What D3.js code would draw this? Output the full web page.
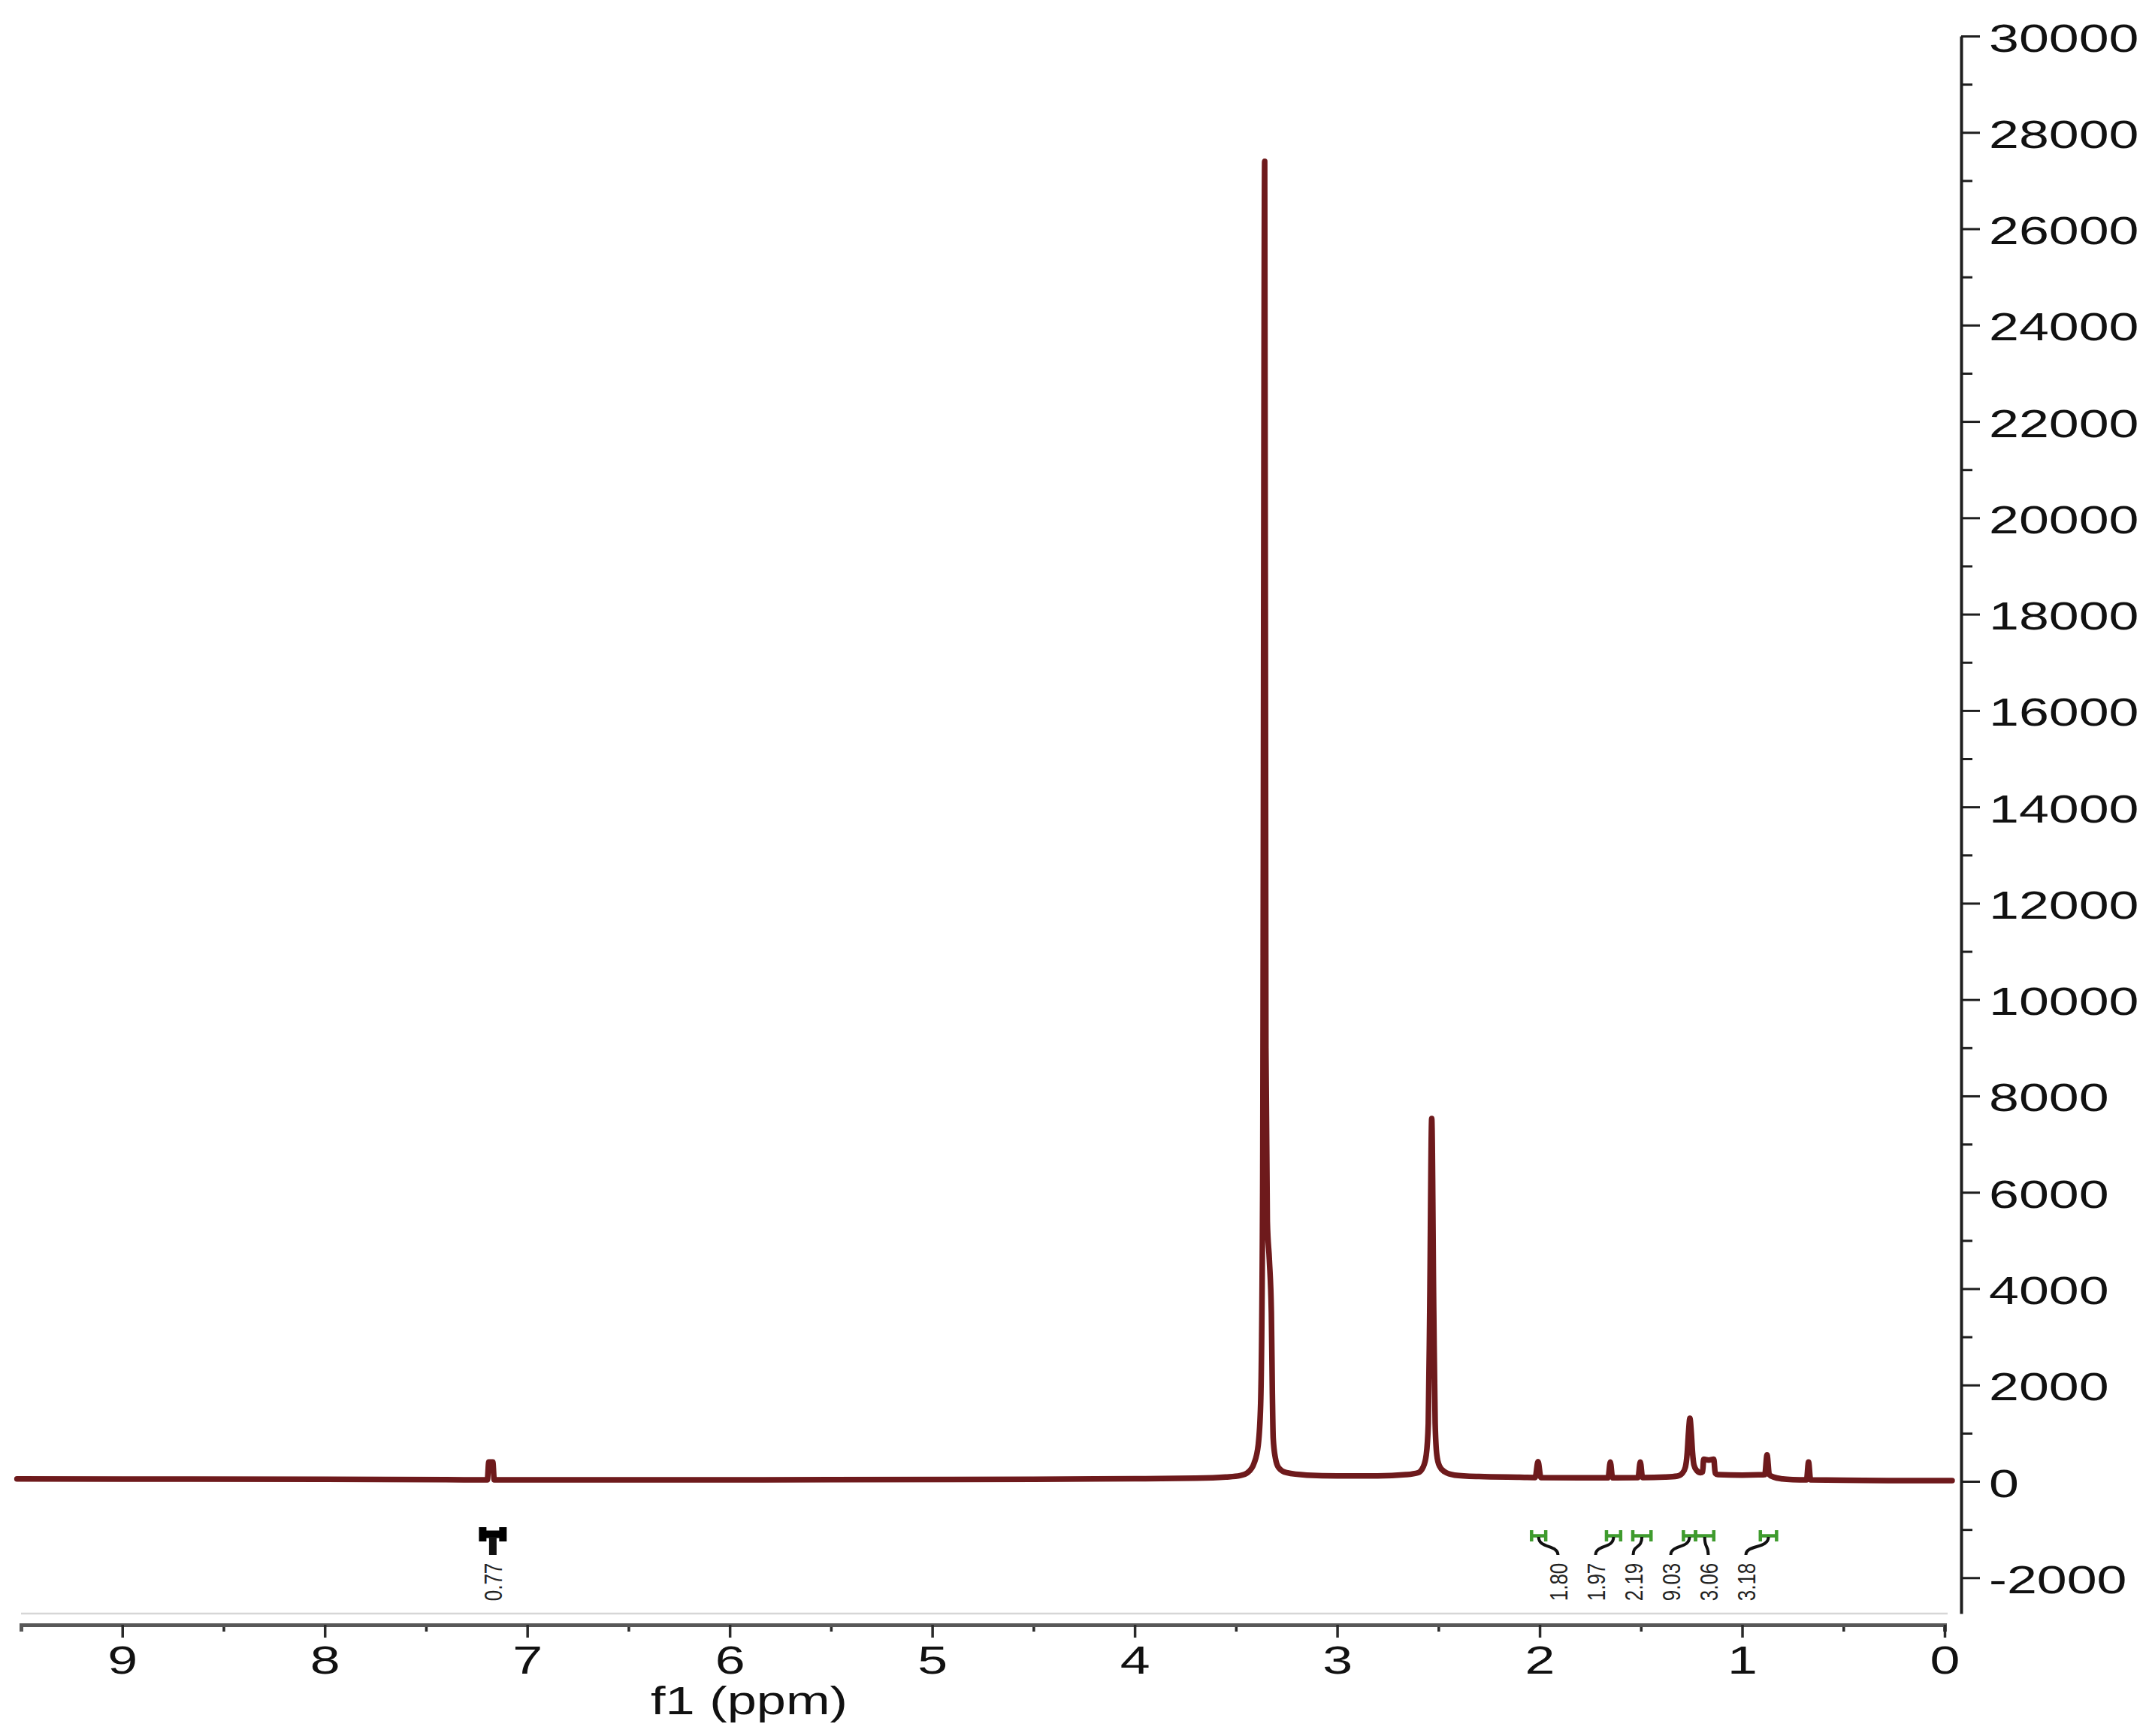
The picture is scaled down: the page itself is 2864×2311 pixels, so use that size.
<!DOCTYPE html>
<html>
<head>
<meta charset="utf-8">
<script src="https://cdn.jsdelivr.net/npm/d3@7"></script>
<style>
  body { margin: 0; background: #fff; }
  svg { display: block; font-family: "Liberation Sans", Arial, sans-serif; }
</style>
</head>
<body>
<div id="chart"></div>
<script>
const WIDTH = 2864
const HEIGHT = 2311
const STRETCH = 1.38 // the source figure is squeezed wider than tall

// spectrum trace: chemical shift (ppm) and intensity
const shiftPpm = [
  9.52, 9.0, 8.0, 7.4, 7.197, 7.19, 7.18, 7.17, 7.163, 6.5, 5.5, 4.5, 4.0, 3.7, 3.55,
  3.48, 3.44, 3.41, 3.39, 3.378, 3.368, 3.358, 3.352, 3.345, 3.335, 3.325, 3.32, 3.316,
  3.305, 3.29, 3.25, 3.15, 3.0, 2.8, 2.66, 2.6, 2.575, 2.56, 2.55, 2.543, 2.533, 2.523, 2.516,
  2.508, 2.495, 2.47, 2.42, 2.3, 2.1, 2.022, 2.008, 1.994, 1.8, 1.662, 1.651, 1.64,
  1.514, 1.503, 1.492, 1.38, 1.32, 1.295, 1.28, 1.271, 1.265, 1.258, 1.251, 1.245,
  1.238, 1.225, 1.205, 1.195, 1.19, 1.165, 1.14, 1.133, 1.12, 1.0, 0.92, 0.888, 0.877,
  0.866, 0.845, 0.8, 0.75, 0.682, 0.672, 0.662, 0.4, 0.1, -0.037
]
const intensity = [
  50, 48, 42, 35, 30, 400, 400, 400, 30, 30, 35, 45, 55, 65, 90,
  120, 190, 380, 750, 1600, 6000, 27400, 9000, 5400, 4600, 3500, 1800, 900,
  480, 290, 180, 130, 115, 115, 140, 180, 300, 550, 1200, 3500, 7530, 3500, 1200,
  550, 320, 200, 130, 100, 85, 80, 410, 80, 75, 75, 400, 75,
  80, 400, 80, 90, 110, 170, 300, 600, 1000, 1310, 1000, 600,
  340, 230, 180, 200, 460, 440, 460, 170, 140, 130, 135, 140, 550,
  140, 90, 50, 35, 30, 400, 30, 20, 15, 15
]

// integrals: value label and range (ppm)
const integralValues = ['0.77', '1.80', '1.97', '2.19', '9.03', '3.06', '3.18']
const integralFrom = [7.22, 2.04, 1.67, 1.54, 1.29, 1.23, 0.91]
const integralTo = [7.12, 1.97, 1.60, 1.45, 1.23, 1.14, 0.83]

const xTickValues = [9, 8, 7, 6, 5, 4, 3, 2, 1, 0]
const xMinorValues = [9.5, 8.5, 7.5, 6.5, 5.5, 4.5, 3.5, 2.5, 1.5, 0.5]
const yTickValues = [-2000, 0, 2000, 4000, 6000, 8000, 10000, 12000, 14000, 16000,
  18000, 20000, 22000, 24000, 26000, 28000, 30000]
const yMinorValues = d3.range(-1000, 30000, 2000)

const svg = d3.select('#chart').append('svg')
  .attr('width', WIDTH)
  .attr('height', HEIGHT)

svg.append('rect').attr('width', WIDTH).attr('height', HEIGHT).attr('fill', '#fff')

const x = d3.scaleLinear().domain([9.5, 0]).range([28, 2588])
const y = d3.scaleLinear().domain([-2744, 30000]).range([2148, 48])

const AXIS_Y = 2163
const AXIS_X = 2610

// thin grey frame line above the ppm axis
svg.append('line')
  .attr('x1', x(9.5)).attr('x2', x(-0.015))
  .attr('y1', 2148).attr('y2', 2148)
  .attr('stroke', '#d6d6d6').attr('stroke-width', 2.5)

// ppm axis
let xAxisMinor = svg.append('g')
  .attr('transform', `translate(0,${AXIS_Y})`)
  .call(d3.axisBottom(x).tickValues(xMinorValues).tickSize(9).tickFormat(''))
xAxisMinor.select('.domain').remove()

let xAxis = svg.append('g')
  .attr('transform', `translate(0,${AXIS_Y})`)
  .call(d3.axisBottom(x).tickValues(xTickValues).tickSize(17).tickSizeOuter(9)
    .tickFormat(d => String(d)))

xAxis.select('.domain').attr('stroke', '#585858').attr('stroke-width', 5)
svg.selectAll('g.tick line').attr('stroke', '#2a2a2a').attr('stroke-width', 3.5)
xAxis.selectAll('text')
  .attr('y', null).attr('dy', null)
  .attr('transform', `translate(0,65) scale(${STRETCH},1)`)
  .attr('font-size', 52)
  .attr('fill', '#111')

svg.append('text')
  .attr('transform', `translate(997,2282) scale(${STRETCH},1)`)
  .attr('text-anchor', 'middle')
  .attr('font-size', 51)
  .attr('fill', '#111')
  .text('f1 (ppm)')

// intensity axis on the right
let yAxisMinor = svg.append('g')
  .attr('transform', `translate(${AXIS_X},0)`)
  .call(d3.axisRight(y).tickValues(yMinorValues).tickSize(15).tickFormat(''))
yAxisMinor.select('.domain').remove()

let yAxis = svg.append('g')
  .attr('transform', `translate(${AXIS_X},0)`)
  .call(d3.axisRight(y).tickValues(yTickValues).tickSize(25).tickSizeOuter(0)
    .tickFormat(d => String(d)))

yAxis.select('.domain').attr('stroke', '#1e1e1e').attr('stroke-width', 4)
yAxisMinor.selectAll('line').attr('stroke', '#1e1e1e').attr('stroke-width', 3)
yAxis.selectAll('.tick line').attr('stroke', '#1e1e1e').attr('stroke-width', 3)
yAxis.selectAll('text')
  .attr('x', null).attr('dy', null)
  .attr('text-anchor', 'start')
  .attr('transform', `translate(37,20) scale(${STRETCH},1)`)
  .attr('font-size', 52)
  .attr('fill', '#111')

// spectrum
const trace = shiftPpm.map((p, i) => [p, intensity[i]])
const line = d3.line()
  .x(d => x(d[0]))
  .y(d => y(d[1]))
  .curve(d3.curveMonotoneX)

svg.append('path')
  .datum(trace)
  .attr('d', line)
  .attr('fill', 'none')
  .attr('stroke', '#6e1a1c')
  .attr('stroke-width', 7.5)
  .attr('stroke-linejoin', 'round')
  .attr('stroke-linecap', 'round')

// integral labels: labels close to each other are spread out evenly
const LABEL_GAP = 50
const MERGE_DIST = 110
let labels = integralValues.map((v, i) => ({
  text: v,
  from: x(integralFrom[i]),
  to: x(integralTo[i]),
  want: (x(integralFrom[i]) + x(integralTo[i])) / 2
}))
let clusters = labels.map(d => ({ items: [d], mean: d.want }))
let merged = true
while (merged) {
  merged = false
  for (let i = 0; i < clusters.length - 1; i++) {
    let a = clusters[i], b = clusters[i + 1]
    let aEnd = a.mean + (a.items.length - 1) * LABEL_GAP / 2
    let bStart = b.mean - (b.items.length - 1) * LABEL_GAP / 2
    if (bStart - aEnd < MERGE_DIST) {
      let items = a.items.concat(b.items)
      clusters.splice(i, 2, { items: items, mean: d3.mean(items, d => d.want) })
      merged = true
      break
    }
  }
}
clusters.forEach(c => {
  let shift = c.items.length > 1 ? -10 : 0
  c.items.forEach((d, k) => {
    d.lx = c.mean + (k - (c.items.length - 1) / 2) * LABEL_GAP + shift
  })
})

const BR_TOP = 2037
const BR_BOT = 2052
let integ = svg.append('g')

labels.forEach(d => {
  let g = integ.append('g')
  let solo = clusters.find(c => c.items.includes(d)).items.length === 1
  let cx = d.want
  let top = solo ? BR_TOP - 4 : BR_TOP
  // range bracket (H shape)
  g.append('path')
    .attr('d', `M${d.from},${top}V${BR_BOT}M${d.to},${top}V${BR_BOT}M${d.from},${(top + BR_BOT) / 2}H${d.to}`)
    .attr('fill', 'none')
    .attr('stroke', solo ? '#000' : '#3f9b2e')
    .attr('stroke-width', solo ? 10 : 4.5)
  // connector from the bracket down to the label
  g.append('path')
    .attr('d', `M${cx},${BR_BOT - 6}C${cx},${BR_BOT + 10} ${d.lx},${BR_BOT + 4} ${d.lx},${2070}`)
    .attr('fill', 'none')
    .attr('stroke', '#111')
    .attr('stroke-width', solo ? 10 : 4)
  g.append('text')
    .attr('transform', `translate(${d.lx},2106) scale(1.3,1) rotate(-90)`)
    .attr('text-anchor', 'middle')
    .attr('dy', '0.36em')
    .attr('font-size', 26)
    .attr('fill', '#222')
    .text(d.text)
})
</script>
</body>
</html>
